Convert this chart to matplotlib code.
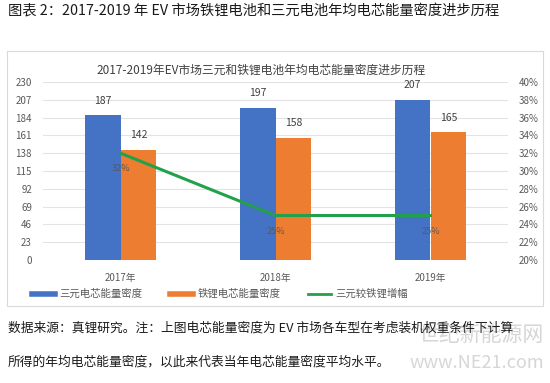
import matplotlib
matplotlib.use("Agg")
import matplotlib.pyplot as plt
from matplotlib.patches import Rectangle
from matplotlib.lines import Line2D
import numpy as np

plt.rcParams['font.family'] = ['Noto Sans CJK SC', 'DejaVu Sans']

categories = ['2017年', '2018年', '2019年']
ternary = [187, 197, 207]
lfp = [142, 158, 165]
advantage = [0.32, 0.25, 0.25]
left_ticks = [0, 23, 46, 69, 92, 115, 138, 161, 184, 207, 230]
right_ticks = [0.20, 0.22, 0.24, 0.26, 0.28, 0.30, 0.32, 0.34, 0.36, 0.38, 0.40]
series_names = ['三元电芯能量密度', '铁锂电芯能量密度', '三元较铁锂增幅']

W, H = 550, 383
fig = plt.figure(figsize=(W/100, H/100), dpi=100)
fig.patch.set_facecolor('white')

def fx(x):
    return x / W
def fy(y):
    return 1 - y / H

# chart frame
fig.patches.append(Rectangle((fx(7), fy(306)), fx(543) - fx(7), fy(51) - fy(306),
                             transform=fig.transFigure, fill=False,
                             edgecolor='#D9D9D9', linewidth=0.8))

ax = fig.add_axes([fx(43), fy(260), fx(508) - fx(43), fy(82) - fy(260)])
ax2 = ax.twinx()

x = np.arange(len(categories))
bw = 0.232
blue = '#4472C4'
orange = '#ED7D31'
green = '#22A04B'
grey = '#595959'

ax.bar(x - bw/2, ternary, bw, color=blue, zorder=2)
ax.bar(x + bw/2, lfp, bw, color=orange, zorder=2)
for xi, v in zip(x, ternary):
    ax.annotate(str(v), (xi - bw/2, v), xytext=(0, 7), textcoords='offset points',
                ha='center', va='bottom', fontsize=7.5, color='#404040')
for xi, v in zip(x, lfp):
    ax.annotate(str(v), (xi + bw/2, v), xytext=(0, 7), textcoords='offset points',
                ha='center', va='bottom', fontsize=7.5, color='#404040')

ax.set_xlim(-0.5, 2.5)
ax.set_ylim(0, 230)
ax.set_yticks(left_ticks)
ax.set_xticks(x)
ax.set_xticklabels(categories, fontsize=7, color=grey)
ax.tick_params(axis='x', length=0, pad=9)
ax.tick_params(axis='y', length=0, labelsize=7, labelcolor=grey, pad=8)
ax.grid(axis='y', color='#E3E3E3', linewidth=0.8, zorder=0)
for s in ax.spines.values():
    s.set_visible(False)

ax2.plot(x, advantage, color=green, linewidth=2.2, zorder=3)
for xi, v in zip(x, advantage):
    ax2.annotate(f'{v*100:.0f}%', (xi, v), xytext=(0, -8), textcoords='offset points',
                 ha='center', va='top', fontsize=6.5, color=grey)
ax2.set_ylim(0.20, 0.40)
ax2.set_yticks(right_ticks)
ax2.set_yticklabels([f'{t*100:.0f}%' for t in right_ticks])
ax2.tick_params(axis='y', length=0, labelsize=7, labelcolor=grey, pad=8)
for s in ax2.spines.values():
    s.set_visible(False)

fig.text(fx(261), fy(70), '2017-2019年EV市场三元和铁锂电池年均电芯能量密度进步历程',
         ha='center', va='center', fontsize=8.5, color='#404040')

handles = [Line2D([0], [0], color=blue, linewidth=4),
           Line2D([0], [0], color=orange, linewidth=4),
           Line2D([0], [0], color=green, linewidth=2)]
fig.legend(handles, series_names, loc='center', bbox_to_anchor=(fx(220), fy(294)),
           ncol=3, frameon=False, fontsize=7.5, labelcolor=grey,
           handlelength=2.2, columnspacing=2.7, handletextpad=0.4)

fig.text(fx(8), fy(11), '图表 2：2017-2019 年 EV 市场铁锂电池和三元电池年均电芯能量密度进步历程',
         ha='left', va='center', fontsize=10.3, color='#1a1a1a')
fig.text(fx(8), fy(328), '数据来源：真锂研究。注：上图电芯能量密度为 EV 市场各车型在考虑装机权重条件下计算',
         ha='left', va='center', fontsize=9.2, color='#1a1a1a')
fig.text(fx(8), fy(362), '所得的年均电芯能量密度，以此来代表当年电芯能量密度平均水平。',
         ha='left', va='center', fontsize=9.2, color='#1a1a1a')
# watermark
fig.text(fx(544), fy(335), '世纪新能源网', ha='right', va='center', fontsize=15,
         color='#D6D6D6', zorder=0)
fig.text(fx(544), fy(363), 'www.NE21.com', ha='right', va='center', fontsize=13,
         color='#D6D6D6', zorder=0)

fig.savefig('out.png', dpi=100)
